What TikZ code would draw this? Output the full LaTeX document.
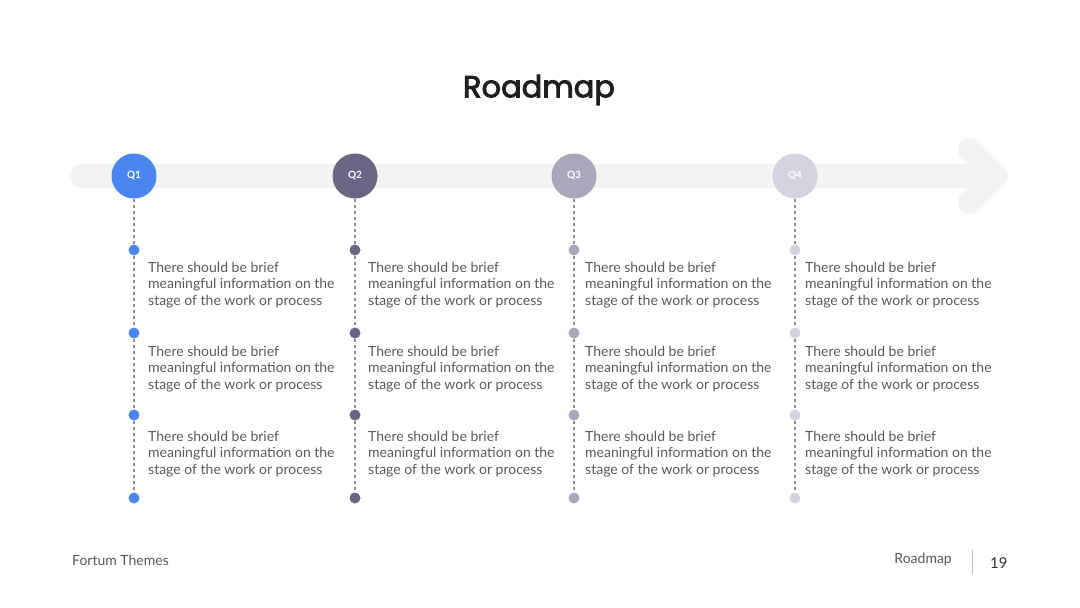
\documentclass[tikz,border=0pt]{standalone}
\usepackage{fontspec}
\setmainfont{Lato}
\newfontfamily\titlefont[FakeBold=3]{Poppins}
\definecolor{barc}{HTML}{F2F3F3}
\definecolor{cA}{HTML}{4A86F0}
\definecolor{cB}{HTML}{6A6584}
\definecolor{cC}{HTML}{AAA7BC}
\definecolor{cD}{HTML}{D5D3DF}
\definecolor{txt}{HTML}{5A5A5A}
\definecolor{dash}{HTML}{8E8E8E}
\begin{document}
\begin{tikzpicture}[x=1pt,y=-1pt,
  qcirc/.style={circle,fill=#1,minimum size=45pt,inner sep=0pt,text=white,font=\bfseries\fontsize{10}{12}\selectfont},
  dotc/.style={circle,fill=#1,minimum size=11pt,inner sep=0pt},
  info/.style={anchor=north west,align=left,text=txt,inner sep=0pt,font=\fontsize{14}{16.5}\selectfont},
  vline/.style={draw=dash,line width=1.6pt,dash pattern=on 3pt off 3pt},
  foot/.style={text=txt,inner sep=0pt,font=\fontsize{14}{16}\selectfont}
]
\useasboundingbox (0,0) rectangle (1080,608);
\fill[white] (0,0) rectangle (1080,608);
% bar and arrow
\draw[barc,line width=24pt,line cap=round] (82,176) -- (995,176);
\draw[barc,line width=24pt,line cap=round,line join=round] (970,150) -- (996,176) -- (970,202);
\node[inner sep=0pt,font=\titlefont\fontsize{30.5}{36}\selectfont,text=black!88] (title) at (539,90) {Roadmap};
\foreach \i/\x/\c/\tx in {1/134/cA/148,2/355/cB/368,3/574/cC/585,4/795/cD/805}{
  \node[qcirc=\c] (q\i) at (\x,176) {Q\i};
  \node[dotc=\c] (d\i a) at (\x,250) {};
  \node[dotc=\c] (d\i b) at (\x,333) {};
  \node[dotc=\c] (d\i c) at (\x,415) {};
  \node[dotc=\c] (d\i d) at (\x,498) {};
  \draw[vline] (q\i.south) -- (d\i a.north);
  \draw[vline] (d\i a.south) -- (d\i b.north);
  \draw[vline] (d\i b.south) -- (d\i c.north);
  \draw[vline] (d\i c.south) -- (d\i d.north);
  \node[info] (t\i a) at (\tx,261.5) {There should be brief\\meaningful information on the\\stage of the work or process};
  \node[info] (t\i b) at (\tx,345.5) {There should be brief\\meaningful information on the\\stage of the work or process};
  \node[info] (t\i c) at (\tx,430.5) {There should be brief\\meaningful information on the\\stage of the work or process};
}
\node[foot,anchor=west] (ft) at (72,560) {Fortum Themes};
\node[foot,anchor=east] (fr) at (952,560) {Roadmap};
\coordinate (s1) at (972,550);
\coordinate (s2) at (972,574);
\draw[black!25,line width=0.8pt] (s1) -- (s2);
\node[foot,anchor=west,text=black!80,font=\fontsize{15}{18}\selectfont] (pg) at (990,563) {19};
\end{tikzpicture}
\end{document}
